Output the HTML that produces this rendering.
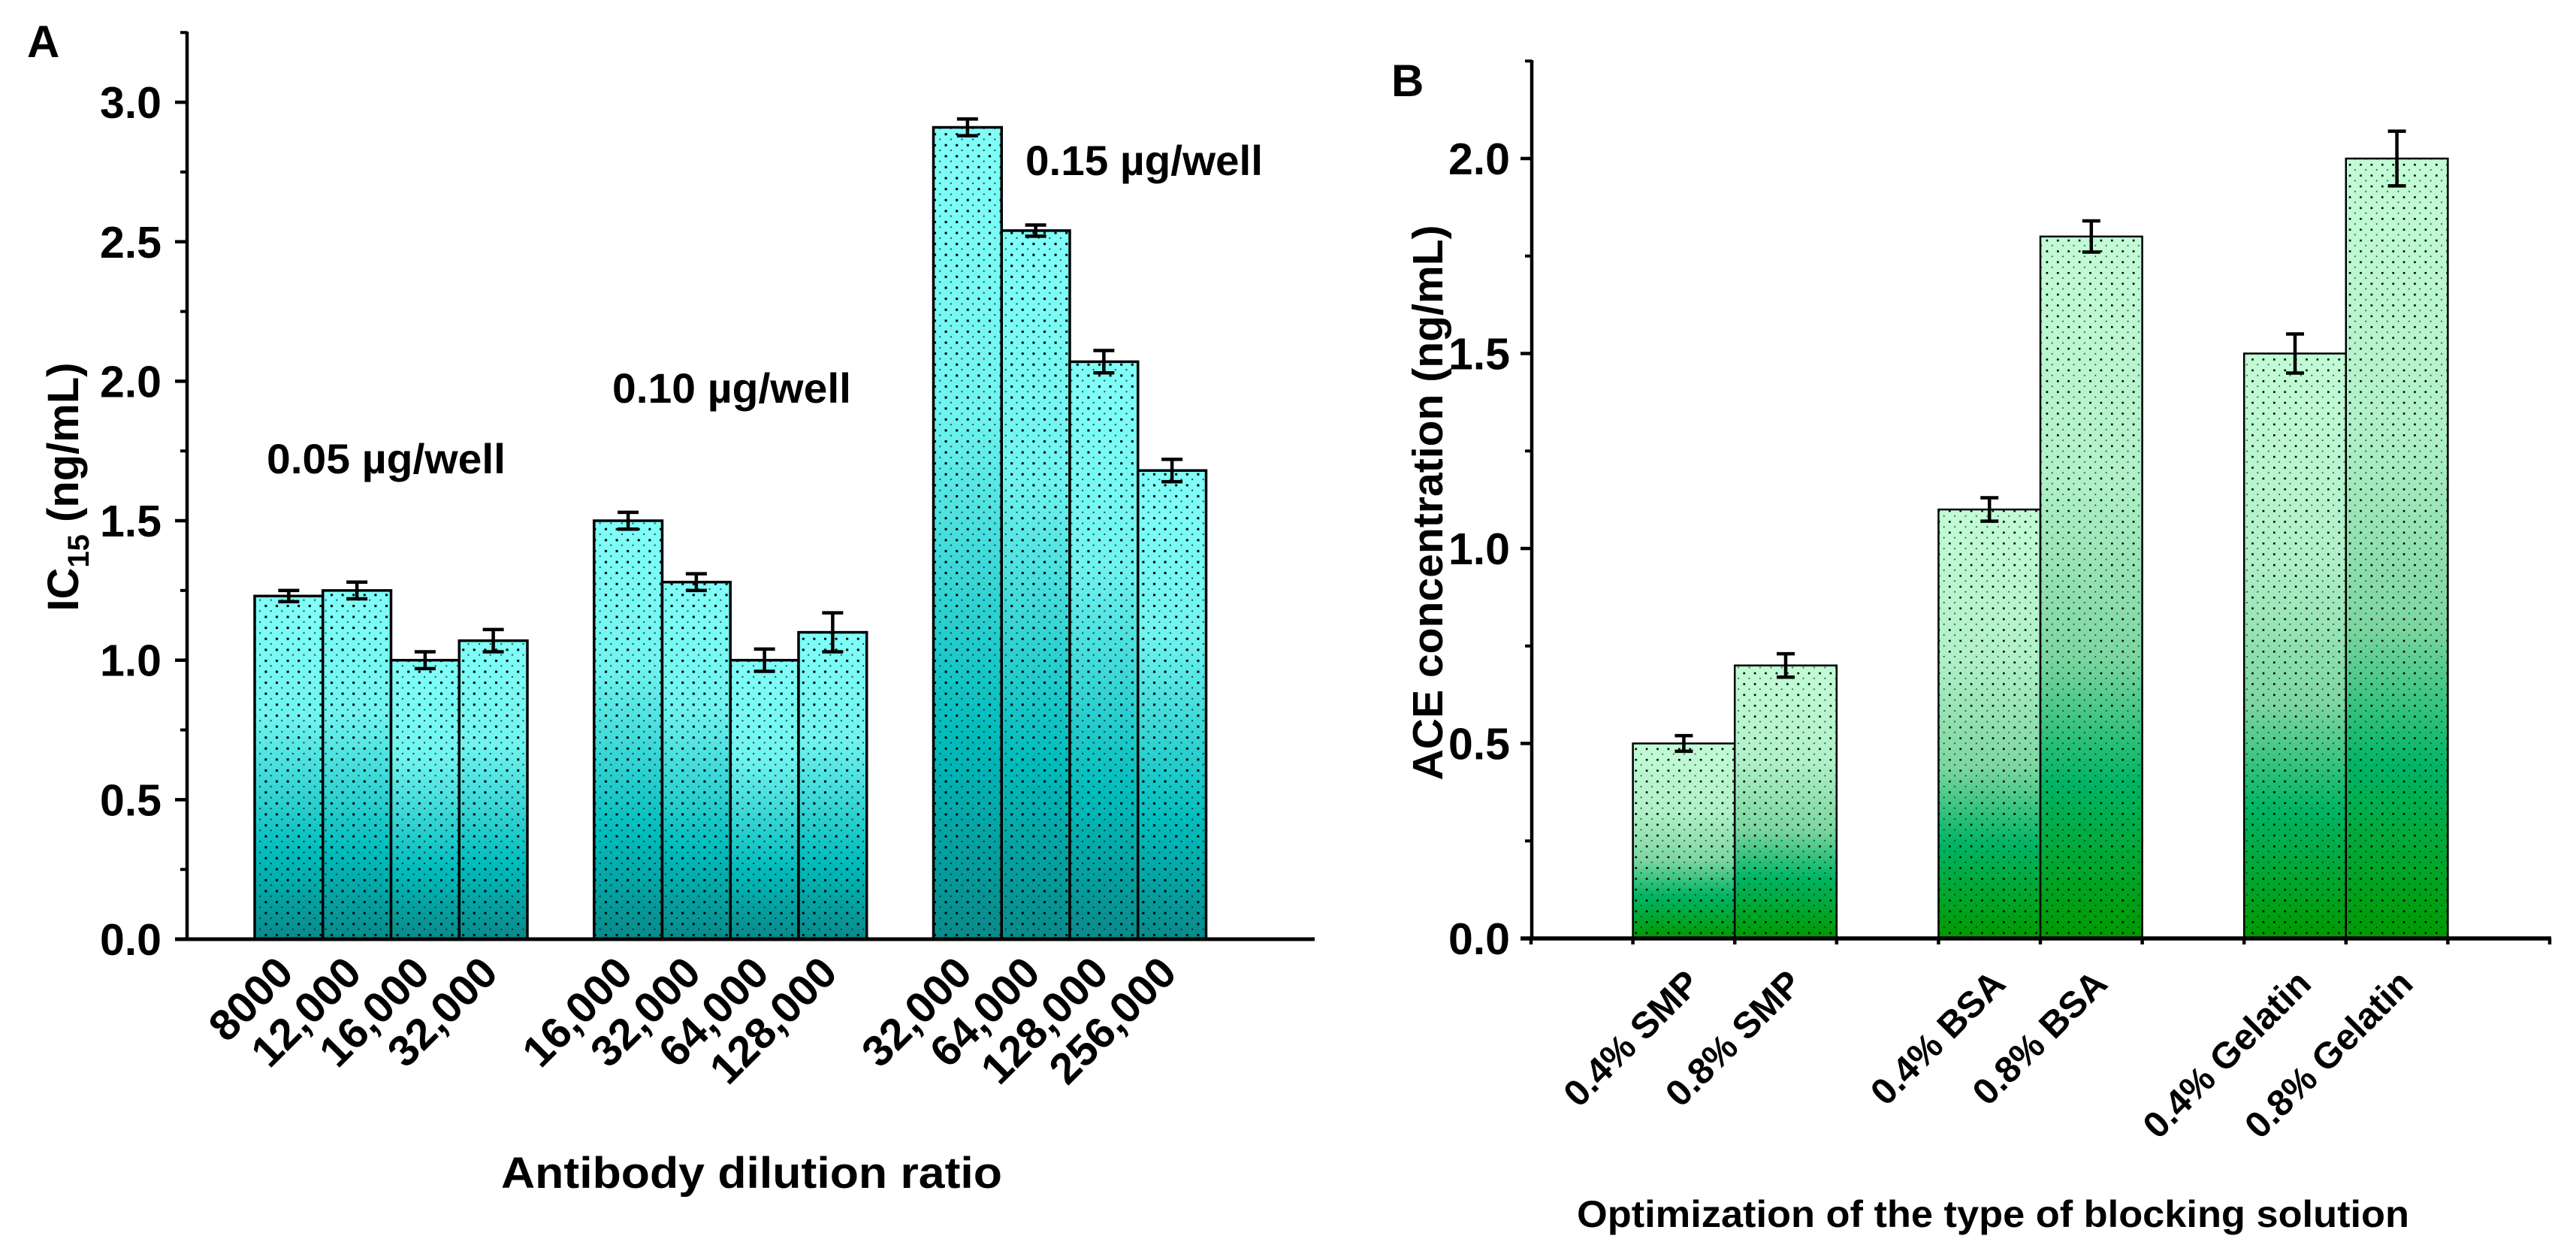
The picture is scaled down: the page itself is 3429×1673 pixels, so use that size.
<!DOCTYPE html>
<html><head><meta charset="utf-8"><style>
html,body{margin:0;padding:0;background:#fff;}
svg{display:block;font-family:"Liberation Sans",Arial,sans-serif;font-weight:bold;}
</style></head><body>
<svg id="fig" width="3429" height="1673" viewBox="0 0 3429 1673" xmlns="http://www.w3.org/2000/svg">
<defs>
<pattern id="dotsA" width="14.6" height="14.6" patternUnits="userSpaceOnUse">
<rect x="2" y="2" width="3" height="3" fill="#000"/><rect x="9.3" y="9.3" width="2" height="2" fill="#000" opacity="0.7"/>
</pattern>
<pattern id="dotsB" width="14.4" height="14.4" patternUnits="userSpaceOnUse">
<rect x="2" y="2" width="2.6" height="2.6" fill="#000"/><rect x="9.2" y="9.2" width="1.8" height="1.8" fill="#000" opacity="0.7"/>
</pattern>
<linearGradient id="gradA" x1="0" y1="0" x2="0" y2="1">
<stop offset="0" stop-color="#80fff8"/><stop offset="0.35" stop-color="#70f4f0"/><stop offset="0.6" stop-color="#2cd0d0"/><stop offset="0.75" stop-color="#00bcbc"/><stop offset="1" stop-color="#088a8a"/>
</linearGradient>
<linearGradient id="gradB" x1="0" y1="0" x2="0" y2="1">
<stop offset="0" stop-color="#c2fcd6"/><stop offset="0.35" stop-color="#b0f0c8"/><stop offset="0.6" stop-color="#7cd6a0"/><stop offset="0.78" stop-color="#00b464"/><stop offset="1" stop-color="#009a00"/>
</linearGradient>
</defs>
<g id="panelA"></g>
<g id="panelB"></g>
</svg>
<script>
// ---- Panel A data ----
const catsA = ["8000","12,000","16,000","32,000","16,000","32,000","64,000","128,000","32,000","64,000","128,000","256,000"];
const valsA = [1.23,1.25,1.00,1.07,1.50,1.28,1.00,1.10,2.91,2.54,2.07,1.68];
const errsA = [0.02,0.03,0.03,0.04,0.03,0.03,0.04,0.07,0.03,0.02,0.04,0.04];
const groupA = [0,0,0,0,1,1,1,1,2,2,2,2];
const ticksA = [0.0,0.5,1.0,1.5,2.0,2.5,3.0];
const tickLabelsA = ["0.0","0.5","1.0","1.5","2.0","2.5","3.0"];
// ---- Panel B data ----
const catsB = ["0.4% SMP","0.8% SMP","0.4% BSA","0.8% BSA","0.4% Gelatin","0.8% Gelatin"];
const valsB = [0.50,0.70,1.10,1.80,1.50,2.00];
const errsB = [0.02,0.03,0.03,0.04,0.05,0.07];
const slotB = [1,2,4,5,7,8];
const ticksB = [0.0,0.5,1.0,1.5,2.0];
const tickLabelsB = ["0.0","0.5","1.0","1.5","2.0"];

const NS="http://www.w3.org/2000/svg";
function mk(parent,tag,attrs,text){const e=document.createElementNS(NS,tag);for(const k in attrs)e.setAttribute(k,attrs[k]);if(text!==undefined)e.textContent=text;parent.appendChild(e);return e;}

// ================= Panel A =================
(function(){
const g=document.getElementById('panelA');
const base=1250, ppu=371.3, ax=249, slot=90.75, x0=339;
const yA=v=>base-v*ppu;
const xA=i=>x0+(i+5*groupA[i]-0)*slot - 0; // index within global slot layout
function barLeft(i){const k=i%4;return x0+(k+5*groupA[i])*slot+ (groupA[i]>0?-(groupA[i]*2):0);}
for(let i=0;i<valsA.length;i++){
  const l=barLeft(i), top=yA(valsA[i]);
  const bg=mk(g,'g',{});
  
  
  mk(bg,'rect',{x:l,y:top,width:slot,height:base-top,fill:'url(#gradA)'});
  mk(bg,'rect',{x:l,y:top,width:slot,height:base-top,fill:'url(#dotsA)',stroke:'#000','stroke-width':3.5});
  const cx=l+slot/2, eh=yA(valsA[i]+errsA[i]), el=yA(valsA[i]-errsA[i]);
  const eb=mk(g,'path',{d:`M${cx},${eh}V${el}M${cx-14},${eh}H${cx+14}M${cx-14},${el}H${cx+14}`,stroke:'#000','stroke-width':4.5,fill:'none'});
  
  
  const t=mk(g,'text',{x:cx+9,y:1298,'font-size':58,'text-anchor':'end',transform:`rotate(-45 ${cx+9} 1298)`},catsA[i]);
  
  
}
// axes
const yax=mk(g,'path',{d:`M${ax},42V${base+2}`,stroke:'#000','stroke-width':4.5,fill:'none'});


const xax=mk(g,'path',{d:`M233,${base}H1750`,stroke:'#000','stroke-width':5,fill:'none'});


for(let j=0;j<ticksA.length;j++){
  const y=yA(ticksA[j]);
  mk(g,'path',{d:`M233,${y}H${ax}`,stroke:'#000','stroke-width':4.5});
  const t=mk(g,'text',{x:215,y:y+21,'font-size':59,'text-anchor':'end'},tickLabelsA[j]);
  
  
  mk(g,'path',{d:`M240,${yA(ticksA[j]+0.25)}H${ax}`,stroke:'#000','stroke-width':4});
}
let t;
t=mk(g,'text',{x:36,y:76,'font-size':60},'A');

t=mk(g,'text',{x:355,y:630,'font-size':56,textLength:318,lengthAdjust:'spacingAndGlyphs'},'0.05 µg/well');

t=mk(g,'text',{x:815,y:536,'font-size':56,textLength:318,lengthAdjust:'spacingAndGlyphs'},'0.10 µg/well');

t=mk(g,'text',{x:1365,y:233,'font-size':56,textLength:316,lengthAdjust:'spacingAndGlyphs'},'0.15 µg/well');

t=mk(g,'text',{x:667,y:1581,'font-size':58,textLength:667,lengthAdjust:'spacingAndGlyphs'},'Antibody dilution ratio');

t=mk(g,'text',{x:0,y:0,'font-size':58,'text-anchor':'middle',transform:'translate(104 648) rotate(-90)'});

mk(t,'tspan',{},'IC');
mk(t,'tspan',{'font-size':40,dy:14},'15');
mk(t,'tspan',{dy:-14},' (ng/mL)');
})();

// ================= Panel B =================
(function(){
const g=document.getElementById('panelB');
const base=1249, ppu=519, ax=2039, step=135.6;
const yB=v=>base-v*ppu;
const xB=k=>2038+k*step;
for(let i=0;i<valsB.length;i++){
  const l=xB(slotB[i]), top=yB(valsB[i]);
  const bg=mk(g,'g',{});
  
  
  mk(bg,'rect',{x:l,y:top,width:step,height:base-top,fill:'url(#gradB)'});
  mk(bg,'rect',{x:l,y:top,width:step,height:base-top,fill:'url(#dotsB)',stroke:'#000','stroke-width':2.5});
  const cx=l+step/2, eh=yB(valsB[i]+errsB[i]), el=yB(valsB[i]-errsB[i]);
  const eb=mk(g,'path',{d:`M${cx},${eh}V${el}M${cx-12},${eh}H${cx+12}M${cx-12},${el}H${cx+12}`,stroke:'#000','stroke-width':4.5,fill:'none'});
  
  
  const px=cx+24, py=1312;
  const t=mk(g,'text',{x:px,y:py,'font-size':49,'text-anchor':'end',transform:`rotate(-45 ${px} ${py})`},catsB[i]);
  
  
}
const yax=mk(g,'path',{d:`M${ax},80V${base+2}`,stroke:'#000','stroke-width':4.5,fill:'none'});


const xax=mk(g,'path',{d:`M2024,${base}H3396`,stroke:'#000','stroke-width':5.5,fill:'none'});


for(let k=0;k<=10;k++){mk(g,'path',{d:`M${xB(k)},${base}V${base+8}`,stroke:'#000','stroke-width':4.5});}
for(let j=0;j<ticksB.length;j++){
  const y=yB(ticksB[j]);
  mk(g,'path',{d:`M2024,${y}H${ax}`,stroke:'#000','stroke-width':4.5});
  const t=mk(g,'text',{x:2010,y:y+21,'font-size':59,'text-anchor':'end'},tickLabelsB[j]);
  
  
  mk(g,'path',{d:`M2030,${yB(ticksB[j]+0.25)}H${ax}`,stroke:'#000','stroke-width':4});
}
let t;
t=mk(g,'text',{x:1852,y:128,'font-size':60},'B');

t=mk(g,'text',{x:2099,y:1633,'font-size':50,textLength:1108,lengthAdjust:'spacingAndGlyphs'},'Optimization of the type of blocking solution');

t=mk(g,'text',{x:0,y:0,'font-size':57,'text-anchor':'middle',textLength:739,lengthAdjust:'spacingAndGlyphs',transform:'translate(1920 669) rotate(-90)'},'ACE concentration (ng/mL)');

})();
</script>
</body></html>
